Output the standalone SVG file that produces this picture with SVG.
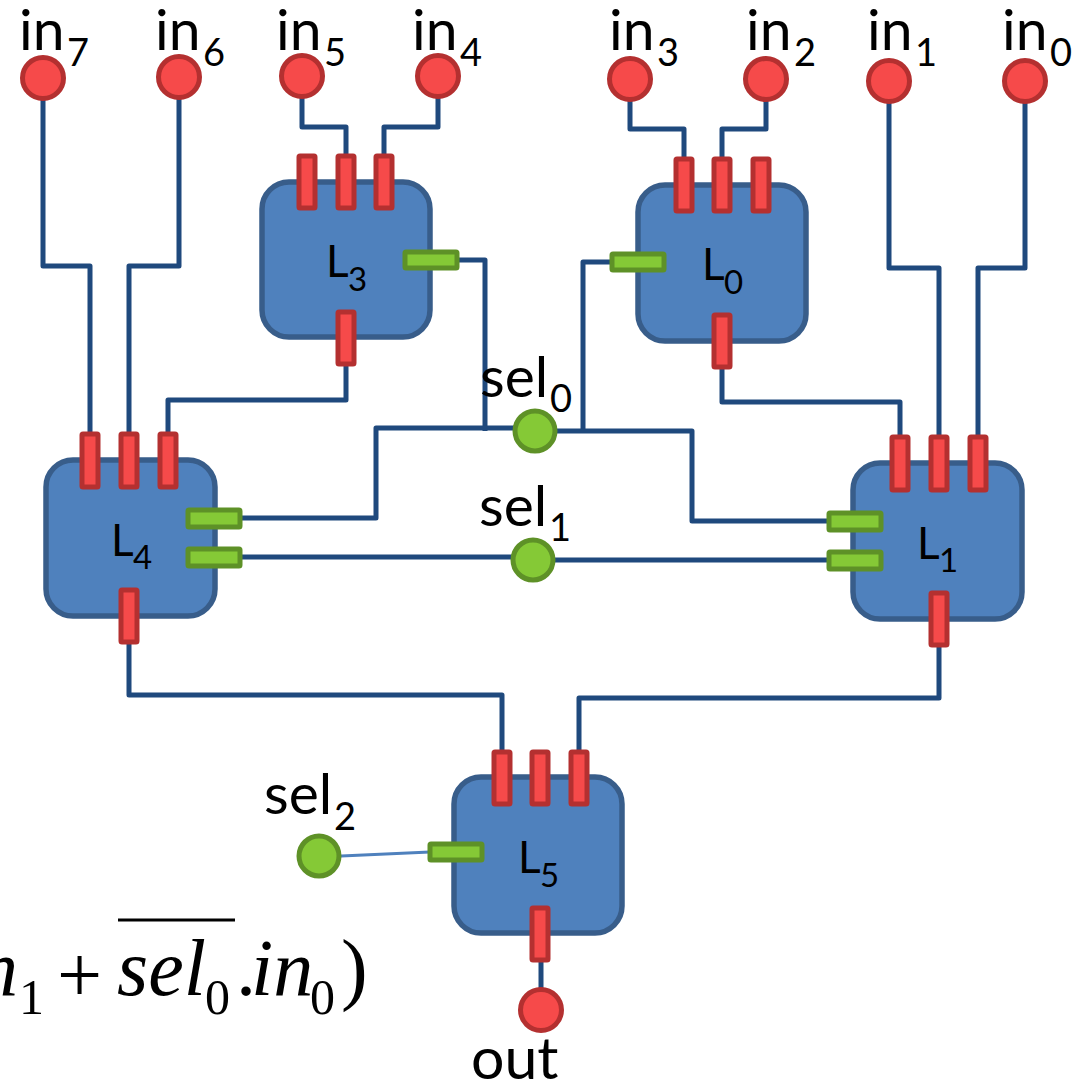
<svg xmlns="http://www.w3.org/2000/svg" width="1083" height="1083" viewBox="0 0 1083 1083">
<style>
.box{fill:#4f81bd;stroke:#385d8a;stroke-width:5.5}
.r{fill:#f64a4a;stroke:#b43030;stroke-width:5}
.g{fill:#85c936;stroke:#5e9127;stroke-width:5}
.w{fill:none;stroke:#1f497d;stroke-width:5;stroke-linejoin:round}
text{font-family:"Lato","Open Sans",sans-serif;fill:#000}
.lb{font-size:57px}
.ls{font-size:38px}
.nb{font-size:44px}
.ns{font-size:33px}
text.m{font-family:"Liberation Serif",serif;font-size:80px}
.mi{font-style:italic}
.ms{font-size:50px}
</style>
<g id="connectors">
<path class="w" d="M43 78V266H90V435"/>
<path class="w" d="M179 78V266H129V435"/>
<path class="w" d="M302 78V127H346V158"/>
<path class="w" d="M438 78V127H384V158"/>
<path class="w" d="M630 80V129H684V160"/>
<path class="w" d="M766 80V129H722V160"/>
<path class="w" d="M889 82V268H939V438"/>
<path class="w" d="M1025 82V268H978V438"/>
<path class="w" d="M346 364V400H168V435"/>
<path class="w" d="M722 366V402H900V438"/>
<path class="w" d="M457 260H485V431"/>
<path class="w" d="M612 262H583V431"/>
<path class="w" d="M240 518H376V428H535"/>
<path class="w" d="M535 431H692V521H830"/>
<path class="w" d="M240 557H533"/>
<path class="w" d="M533 560H830"/>
<path class="w" d="M129 642V695H502V754"/>
<path class="w" d="M939 645V698H579V754"/>
<path class="w" d="M541 960V1010"/>
<path d="M319 857L430 852" fill="none" stroke="#4f81bd" stroke-width="3"/>
</g>
<g id="L3"><rect class="box" x="262" y="182" width="168" height="155" rx="27"/><rect class="r" x="299" y="156" width="16" height="52" rx="1"/><rect class="r" x="338" y="156" width="16" height="52" rx="1"/><rect class="r" x="376" y="156" width="16" height="52" rx="1"/><rect class="g" x="405" y="252" width="52" height="16" rx="1"/><rect class="r" x="338" y="312" width="16" height="52" rx="1"/><text class="nb" x="326" y="277">L</text><text class="ns" x="348" y="291">3</text></g>
<g id="L0"><rect class="box" x="638" y="185" width="168" height="156" rx="27"/><rect class="r" x="676" y="159" width="16" height="52" rx="1"/><rect class="r" x="714" y="159" width="16" height="52" rx="1"/><rect class="r" x="753" y="159" width="16" height="52" rx="1"/><rect class="g" x="612" y="254" width="52" height="16" rx="1"/><rect class="r" x="714" y="315" width="16" height="52" rx="1"/><text class="nb" x="702" y="280">L</text><text class="ns" x="724" y="294">0</text></g>
<g id="L4"><rect class="box" x="46" y="460" width="169" height="156" rx="27"/><rect class="r" x="82" y="434" width="16" height="53" rx="1"/><rect class="r" x="121" y="434" width="16" height="53" rx="1"/><rect class="r" x="160" y="434" width="16" height="53" rx="1"/><rect class="g" x="188" y="510" width="52" height="17" rx="1"/><rect class="g" x="188" y="549" width="52" height="17" rx="1"/><rect class="r" x="121" y="590" width="16" height="52" rx="1"/><text class="nb" x="111" y="556">L</text><text class="ns" x="133" y="569">4</text></g>
<g id="L1"><rect class="box" x="853" y="463" width="169" height="156" rx="27"/><rect class="r" x="892" y="437" width="16" height="53" rx="1"/><rect class="r" x="931" y="437" width="16" height="53" rx="1"/><rect class="r" x="970" y="437" width="16" height="53" rx="1"/><rect class="g" x="829" y="513" width="52" height="17" rx="1"/><rect class="g" x="829" y="552" width="52" height="17" rx="1"/><rect class="r" x="931" y="593" width="16" height="52" rx="1"/><text class="nb" x="917" y="559">L</text><text class="ns" x="939" y="572">1</text></g>
<g id="L5"><rect class="box" x="454" y="777" width="168" height="156" rx="27"/><rect class="r" x="494" y="752" width="16" height="52" rx="1"/><rect class="r" x="532" y="752" width="16" height="52" rx="1"/><rect class="r" x="571" y="752" width="16" height="52" rx="1"/><rect class="g" x="430" y="844" width="52" height="16" rx="1"/><rect class="r" x="532" y="908" width="16" height="52" rx="1"/><text class="nb" x="518" y="873">L</text><text class="ns" x="540" y="887">5</text></g>
<g id="in7"><circle class="r" cx="43" cy="78" r="20.5"/><text class="lb" x="19" y="50">in</text><text class="ls" x="67" y="66">7</text></g>
<g id="in6"><circle class="r" cx="179" cy="77" r="20.5"/><text class="lb" x="155" y="50">in</text><text class="ls" x="203" y="66">6</text></g>
<g id="in5"><circle class="r" cx="302" cy="76" r="20.5"/><text class="lb" x="276" y="50">in</text><text class="ls" x="324" y="66">5</text></g>
<g id="in4"><circle class="r" cx="438" cy="76" r="20.5"/><text class="lb" x="412" y="50">in</text><text class="ls" x="460" y="66">4</text></g>
<g id="in3"><circle class="r" cx="630" cy="79" r="20.5"/><text class="lb" x="609" y="50">in</text><text class="ls" x="657" y="66">3</text></g>
<g id="in2"><circle class="r" cx="766" cy="79" r="20.5"/><text class="lb" x="746" y="50">in</text><text class="ls" x="794" y="66">2</text></g>
<g id="in1"><circle class="r" cx="889" cy="81" r="20.5"/><text class="lb" x="867" y="50">in</text><text class="ls" x="915" y="66">1</text></g>
<g id="in0"><circle class="r" cx="1025" cy="81" r="20.5"/><text class="lb" x="1002" y="50">in</text><text class="ls" x="1050" y="66">0</text></g>
<g id="sel0"><circle class="g" cx="535" cy="431" r="20"/><text class="lb" x="480" y="397">sel</text><text class="ls" x="550" y="412">0</text></g>
<g id="sel1"><circle class="g" cx="533" cy="560" r="20"/><text class="lb" x="479" y="526">sel</text><text class="ls" x="549" y="541">1</text></g>
<g id="sel2"><circle class="g" cx="319" cy="856" r="20"/><text class="lb" x="264" y="814">sel</text><text class="ls" x="334" y="830">2</text></g>
<g id="out"><circle class="r" cx="541" cy="1010" r="20.5"/><text class="lb" x="471" y="1079" style="font-size:59px">out</text></g>
<g id="formula">
<text class="m" y="995"><tspan class="mi" x="-22">n</tspan><tspan class="ms" x="19" y="1014">1</tspan><tspan x="57" y="1002">+</tspan><tspan class="mi" x="117" y="995">sel</tspan><tspan class="ms" x="205" y="1014">0</tspan><tspan x="236" y="995">.</tspan><tspan class="mi" x="251" y="995">in</tspan><tspan class="ms" x="310" y="1014">0</tspan><tspan x="341" y="995">)</tspan></text>
<line x1="118" y1="920" x2="235" y2="920" stroke="#000" stroke-width="3"/>
</g>
</svg>
